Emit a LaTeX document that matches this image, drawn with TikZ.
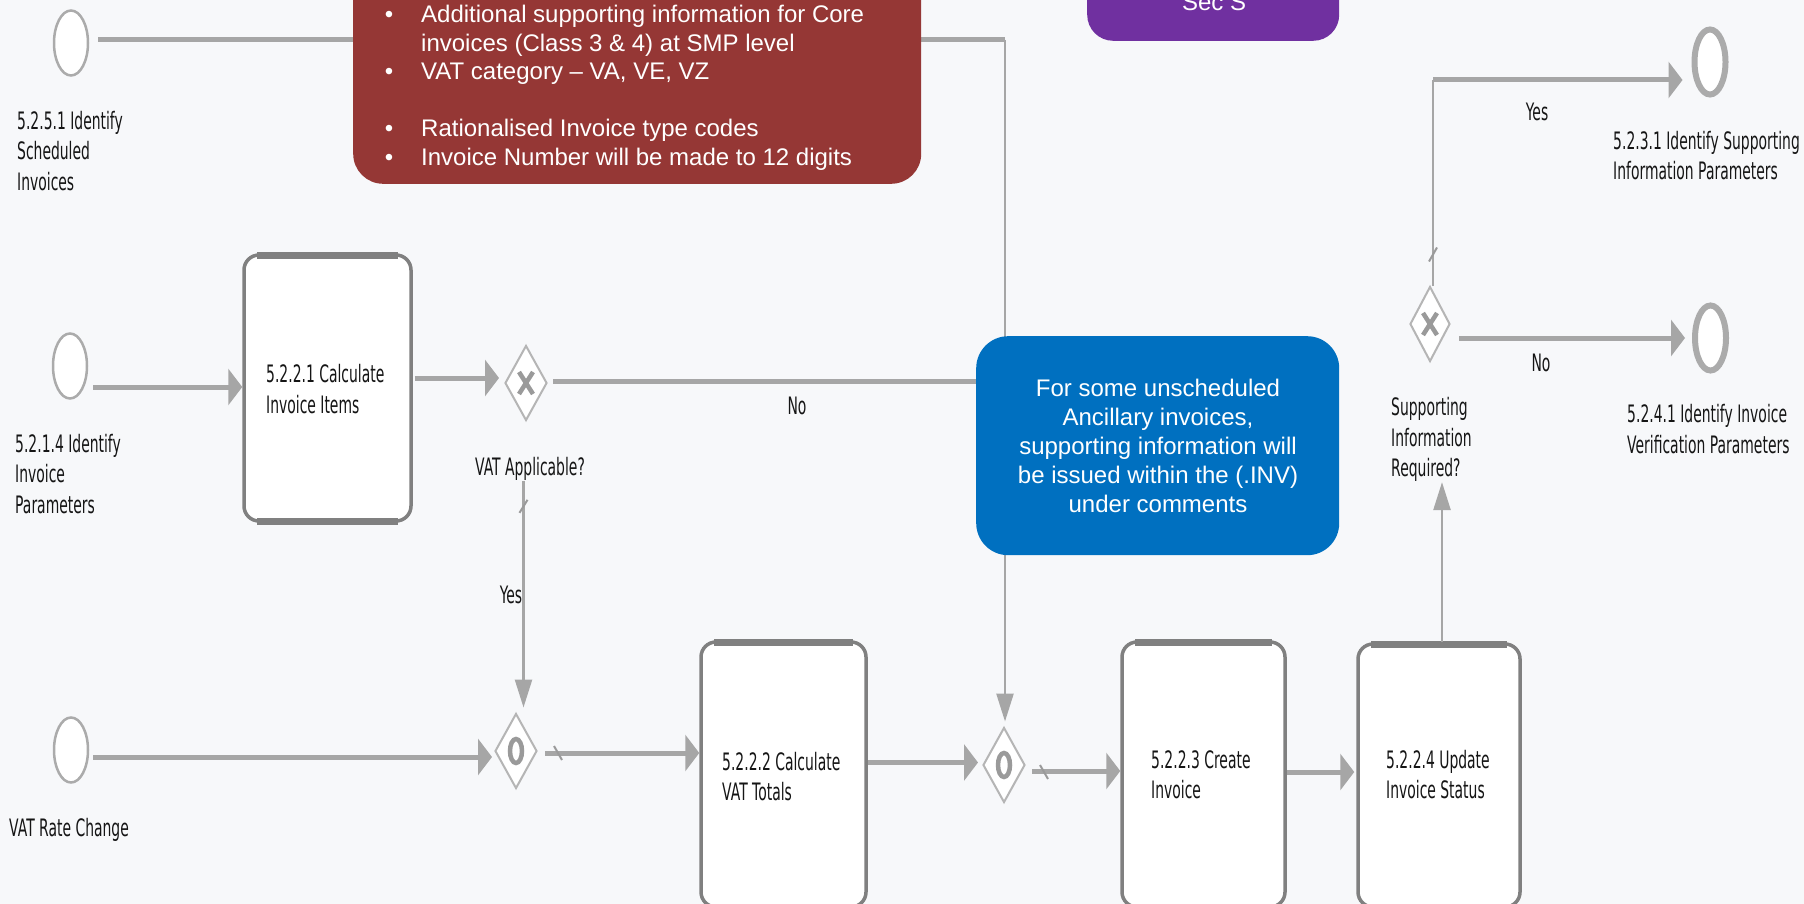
\documentclass[tikz,border=0pt]{standalone}
\usepackage{fontspec}
\usetikzlibrary{shapes.geometric,arrows.meta,calc}
\newfontfamily\bpmnfont[FakeStretch=0.58]{DejaVu Sans}
\newfontfamily\arialfont{Liberation Sans}
\definecolor{bg}{HTML}{F7F8FA}
\definecolor{linegray}{HTML}{A6A6A6}
\definecolor{taskgray}{HTML}{808080}
\definecolor{evgray}{HTML}{ABABAB}
\definecolor{gwgray}{HTML}{B5B5B5}
\definecolor{markgray}{HTML}{9A9A9A}
\definecolor{redbox}{HTML}{953735}
\definecolor{bluebox}{HTML}{0070C0}
\definecolor{purplebox}{HTML}{7030A0}
\definecolor{txtgray}{HTML}{151515}
\begin{document}
\begin{tikzpicture}[x=1pt,y=-1pt,
  hconn/.style={draw=linegray,line width=5pt},
  vconn/.style={draw=linegray,line width=2.5pt},
  harrow/.style={-{Triangle[length=14pt,width=36pt]}},
  varrow/.style={-{Triangle[length=28pt,width=17pt]}},
  startev/.style={ellipse,draw=evgray,line width=2.5pt,fill=white,minimum width=34pt,minimum height=65pt,inner sep=0pt},
  endev/.style={ellipse,draw=evgray,line width=6pt,fill=white,minimum width=31pt,minimum height=65pt,inner sep=0pt},
  taskbox/.style={draw=taskgray,line width=3.5pt,fill=white,rounded corners=15pt,inner sep=0pt},
  taskedge/.style={draw=taskgray,line width=7pt},
  gateway/.style={diamond,draw=gwgray,line width=2pt,fill=white,minimum width=42pt,minimum height=75pt,inner sep=0pt},
  gwmark/.style={draw=markgray,line width=4.5pt},
  flowslash/.style={draw=markgray,line width=2pt},
  lbl/.style={font=\bpmnfont\fontsize{24}{30.5}\selectfont,text=txtgray,inner sep=0pt,align=left},
  notetext/.style={font=\arialfont\fontsize{24}{29}\selectfont,text=white,inner sep=0pt}
]
\useasboundingbox (0,0) rectangle (1804,904);
\clip (0,0) rectangle (1804,904);
\fill[bg] (0,0) rectangle (1804,904);

% ---------- events ----------
\node[startev] (e1) at (71,43) {};
\node[startev] (e2) at (70,366) {};
\node[startev] (e3) at (71,750) {};
\node[endev] (end1) at (1710,62) {};
\node[endev] (end2) at (1710.5,338) {};

% ---------- tasks ----------
\node[taskbox,minimum width=167pt,minimum height=266pt] (t1) at (327.5,388) {};
\node[taskbox,minimum width=165pt,minimum height=265pt] (t2) at (783.5,774.5) {};
\node[taskbox,minimum width=163pt,minimum height=265pt] (t3) at (1203.5,774.5) {};
\node[taskbox,minimum width=162pt,minimum height=263pt] (t4) at (1439,775.5) {};
\foreach \t in {t1,t2,t3,t4}{
  \draw[taskedge] ([shift={(15,1.75)}]\t.north west) -- ([shift={(-15,1.75)}]\t.north east);
  \draw[taskedge] ([shift={(15,-1.75)}]\t.south west) -- ([shift={(-15,-1.75)}]\t.south east);
}

% ---------- gateways ----------
\node[gateway] (gw1) at (526,383) {};
\node[gateway] (gw2) at (516,751) {};
\node[gateway] (gw3) at (1004,765) {};
\node[gateway,minimum width=40pt] (gw4) at (1430,324) {};
\foreach \g in {gw1,gw4}{
  \draw[gwmark] ($(\g.center)+(-7,-11)$) -- ($(\g.center)+(7,11)$);
  \draw[gwmark] ($(\g.center)+(-7,11)$) -- ($(\g.center)+(7,-11)$);
}
\foreach \g in {gw2,gw3}{
  \draw[gwmark] (\g.center) ellipse [x radius=6pt, y radius=12pt];
}

% ---------- labels ----------
\node[lbl,anchor=north west] (e1lbl) at (17,111) {5.2.5.1 Identify\\Scheduled\\Invoices};
\node[lbl,anchor=north west] (e2lbl) at (15,434) {5.2.1.4 Identify\\Invoice\\Parameters};
\node[lbl,anchor=north west] (e3lbl) at (9,818) {VAT Rate Change};
\node[lbl] (gw1lbl) at (530,469) {VAT Applicable?};
\node[lbl,anchor=north west] (gw4lbl) at (1391,397.5) {Supporting\\Information\\Required?};
\node[lbl,anchor=north west] (end1lbl) at (1613,131) {5.2.3.1 Identify Supporting\\Information Parameters};
\node[lbl,anchor=north west] (end2lbl) at (1627,404.5) {5.2.4.1 Identify Invoice\\Verification Parameters};
\node[lbl,anchor=north west] (t1lbl) at (266,364.5) {5.2.2.1 Calculate\\Invoice Items};
\node[lbl,anchor=north west] (t2lbl) at (722,752) {5.2.2.2 Calculate\\VAT Totals};
\node[lbl,anchor=north west] (t3lbl) at (1151,750) {5.2.2.3 Create\\Invoice};
\node[lbl,anchor=north west] (t4lbl) at (1386,750) {5.2.2.4 Update\\Invoice Status};

% ---------- connectors ----------
\coordinate (c1) at (1005,40);
\draw[hconn] ($(e1.east)+(9,-3)$) -- (c1);
\draw[vconn,varrow] (c1) -- ($(c1 |- gw3.north)+(0,-5)$);

\coordinate (p2) at ($(e2.east)+(5,21)$);
\draw[hconn,harrow] (p2) -- (p2 -| t1.west);

\coordinate (p3) at ($(t1.east)+(2,-10)$);
\draw[hconn,harrow] (p3) -- ($(p3 -| gw1.west)+(-5,0)$);

\coordinate (p4) at ($(gw1.east)+(5,-2)$);
\draw[hconn] (p4) -- (p4 -| c1);
\node[lbl] (no1) at (797,406) {No};

\coordinate (p5) at ($(gw1.south)+(-2.5,0)$);
\draw[vconn,varrow] (p5 |- gw1lbl.south) -- ($(p5 |- gw2.north)+(0,-5)$);
\draw[flowslash] ($(p5 |- gw1lbl.south)+(-4,32)$) -- ($(p5 |- gw1lbl.south)+(4,19)$);
\node[lbl] (yes1) at (511,595) {Yes};

\coordinate (p6) at ($(e3.east)+(4,7)$);
\draw[hconn,harrow] (p6) -- ($(p6 -| gw2.west)+(-2,0)$);

\coordinate (p7) at ($(gw2.east)+(7,2)$);
\draw[hconn,harrow] (p7) -- (p7 -| t2.west);
\draw[flowslash] ($(p7)+(9,-7)$) -- ($(p7)+(17,7)$);

\coordinate (p8) at ($(t2.east)+(0,-12)$);
\draw[hconn,harrow] (p8) -- ($(p8 -| gw3.west)+(-4,0)$);

\coordinate (p9) at ($(gw3.east)+(6,6)$);
\draw[hconn,harrow] (p9) -- (p9 -| t3.west);
\draw[flowslash] ($(p9)+(8,-6)$) -- ($(p9)+(16,8)$);

\coordinate (p10) at ($(t3.east)+(0,-2.5)$);
\draw[hconn,harrow] (p10) -- ($(p10 -| t4.west)+(-2,0)$);

\coordinate (p11) at ($(t4.north)+(3,0)$);
\draw[vconn,varrow] (p11) -- (p11 |- gw4lbl.south);

\coordinate (p12) at ($(gw4.east)+(8,14)$);
\draw[hconn,harrow] (p12) -- ($(p12 -| end2.west)+(-7,0)$);
\node[lbl] (no2) at (1541,363) {No};

\coordinate (p13) at ($(gw4.north)+(3,0)$);
\coordinate (c4) at (1433,80);
\draw[vconn] (p13) -- (c4);
\draw[hconn,harrow] (c4) -- ($(c4 -| end1.west)+(-9,0)$);
\draw[flowslash] ($(p13)+(-4,-24)$) -- ($(p13)+(4,-38)$);
\node[lbl] (yes2) at (1537,112) {Yes};

% ---------- note boxes ----------
\node[fill=redbox,rounded corners=30pt,minimum width=568pt,minimum height=240pt,anchor=south west,inner sep=0pt] (redn) at (353,184) {};
\node[notetext,anchor=base] (rb1) at (389,23) {•};
\node[notetext,anchor=base west] (rt1) at (421,23) {Additional supporting information for Core};
\node[notetext,anchor=base west] (rt2) at (421,51.5) {invoices (Class 3 \& 4) at SMP level};
\node[notetext,anchor=base] (rb3) at (389,80) {•};
\node[notetext,anchor=base west] (rt3) at (421,80) {VAT category – VA, VE, VZ};
\node[notetext,anchor=base] (rb4) at (389,137) {•};
\node[notetext,anchor=base west] (rt4) at (421,137) {Rationalised Invoice type codes};
\node[notetext,anchor=base] (rb5) at (389,165.5) {•};
\node[notetext,anchor=base west] (rt5) at (421,165.5) {Invoice Number will be made to 12 digits};

\node[fill=purplebox,rounded corners=26pt,minimum width=252pt,minimum height=100pt,anchor=south west,inner sep=0pt] (purn) at (1087,41) {};
\node[notetext,anchor=base] (purt) at (1214,11) {Sec S};

\node[fill=bluebox,rounded corners=32pt,minimum width=363pt,minimum height=219pt,anchor=north west,inner sep=0pt] (bluen) at (976,336) {};
\node[notetext,align=center] (bluet) at (1158,446) {For some unscheduled\\Ancillary invoices,\\supporting information will\\be issued within the (.INV)\\under comments};
\end{tikzpicture}
\end{document}
